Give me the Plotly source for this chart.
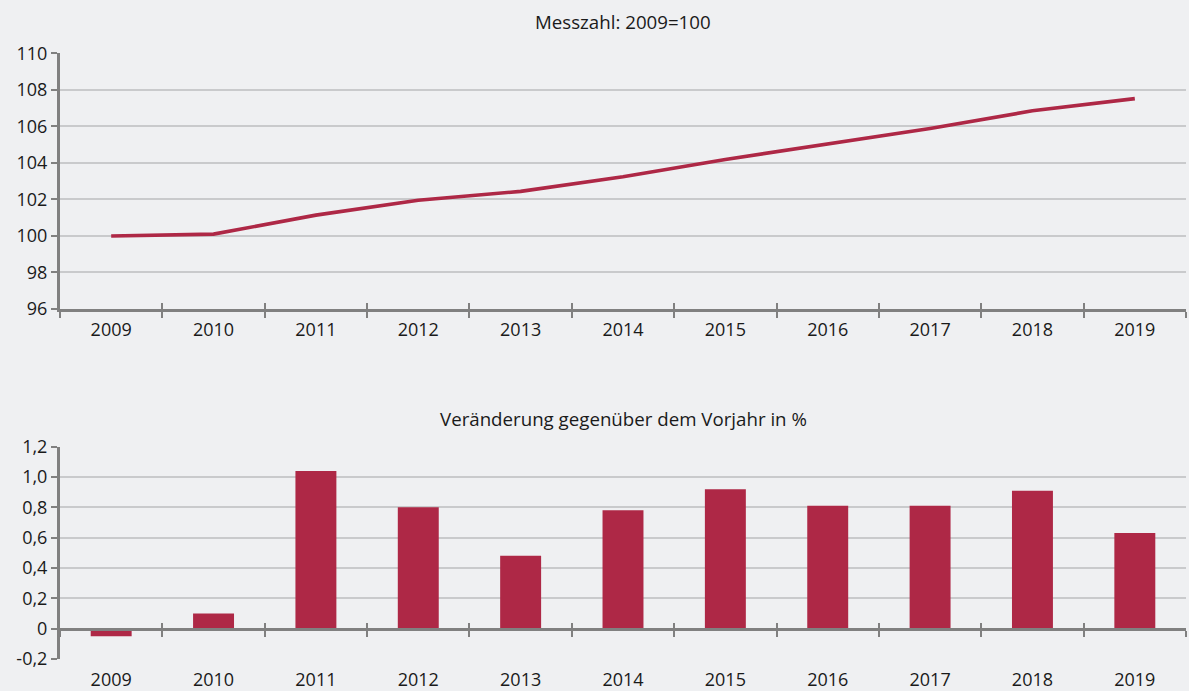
import plotly.graph_objects as go

# Data
years = ["2009", "2010", "2011", "2012", "2013", "2014", "2015", "2016", "2017", "2018", "2019"]
index_2009 = [100.0, 100.1, 101.14, 101.95, 102.44, 103.24, 104.19, 105.03, 105.88, 106.85, 107.52]
change_pct = [-0.05, 0.10, 1.04, 0.80, 0.48, 0.78, 0.92, 0.81, 0.81, 0.91, 0.63]

top_ticks = [96, 98, 100, 102, 104, 106, 108, 110]
bottom_ticks = [-0.2, 0.0, 0.2, 0.4, 0.6, 0.8, 1.0, 1.2]
bottom_ticktext = ["-0,2", "0", "0,2", "0,4", "0,6", "0,8", "1,0", "1,2"]

top_title = "Messzahl: 2009=100"
bottom_title = "Veränderung gegenüber dem Vorjahr in %"

# Styling
W, H = 1189, 691
BG = "#EFF0F2"
RED = "#AE2846"
AXIS = "#808080"
GRID = "#C9CACC"
FONT = "Open Sans"
TXT = "#1a1a1a"

x_dom = [60 / W, 1186 / W]
top_dom = [1 - 309 / H, 1 - 53.3 / H]
bot_dom = [1 - 659 / H, 1 - 446.7 / H]
# tiny pad below -0.2 so its gridline is kept at the lower edge
bot_range = [-0.2008, 1.2]
zero_pos = bot_dom[0] + (0 - bot_range[0]) / (bot_range[1] - bot_range[0]) * (bot_dom[1] - bot_dom[0])

fig = go.Figure()

fig.add_trace(go.Scatter(x=years, y=index_2009, mode="lines",
                         line=dict(color=RED, width=3.6),
                         xaxis="x", yaxis="y", showlegend=False))
fig.add_trace(go.Bar(x=years, y=change_pct, marker=dict(color=RED, line=dict(width=0)),
                     xaxis="x2", yaxis="y2", showlegend=False))

# invisible helpers so the overlay axes carry the same categories
for xa, ya, vals in [("x3", "y", index_2009), ("x4", "y2", change_pct), ("x5", "y2", change_pct)]:
    fig.add_trace(go.Scatter(x=years, y=vals, mode="lines", line=dict(width=0),
                             opacity=0, hoverinfo="skip", xaxis=xa, yaxis=ya, showlegend=False))

tick_font = dict(family=FONT, size=18, color=TXT)

common_x = dict(type="category", categoryorder="array", categoryarray=years,
                range=[-0.5, len(years) - 0.5], domain=x_dom, showgrid=False,
                zeroline=False, fixedrange=True, automargin=False)

common_y = dict(showline=True, linecolor=AXIS, linewidth=3,
                ticks="outside", ticklen=6, tickwidth=2, tickcolor=AXIS,
                showgrid=True, gridcolor=GRID, gridwidth=2, zeroline=False,
                tickfont=tick_font, fixedrange=True, automargin=False)

fig.update_layout(
    width=W, height=H, autosize=False,
    margin=dict(l=0, r=0, t=0, b=0, pad=0, autoexpand=False),
    paper_bgcolor=BG, plot_bgcolor=BG,
    font=dict(family=FONT, color=TXT),
    bargap=0.6,
    xaxis=dict(**common_x, anchor="y", showline=True, linecolor=AXIS, linewidth=3,
               ticks="outside", tickson="boundaries", ticklen=6, tickwidth=2, tickcolor=AXIS,
               ticklabelstandoff=2, tickfont=tick_font),
    xaxis3=dict(**common_x, anchor="y", overlaying="x", showline=False,
                ticks="inside", tickson="boundaries", ticklen=6, tickwidth=2, tickcolor=AXIS,
                showticklabels=False),
    yaxis=dict(**common_y, domain=top_dom, range=[96, 110], tickvals=top_ticks, anchor="x"),
    xaxis2=dict(**common_x, anchor="y2", showline=False, ticks="",
                ticklabelstandoff=8, tickfont=tick_font),
    xaxis4=dict(**common_x, anchor="free", position=zero_pos, overlaying="x2",
                showline=True, linecolor=AXIS, linewidth=3,
                ticks="outside", tickson="boundaries", ticklen=6, tickwidth=2, tickcolor=AXIS,
                showticklabels=False),
    xaxis5=dict(**common_x, anchor="free", position=zero_pos, overlaying="x2",
                showline=False,
                ticks="inside", tickson="boundaries", ticklen=6, tickwidth=2, tickcolor=AXIS,
                showticklabels=False),
    yaxis2=dict(**common_y, domain=bot_dom, range=bot_range, tickvals=bottom_ticks,
                ticktext=bottom_ticktext, anchor="x2"),
    annotations=[
        dict(text=top_title, x=(x_dom[0] + x_dom[1]) / 2, y=1 - 22 / H, xref="paper", yref="paper",
             showarrow=False, xanchor="center", yanchor="middle",
             font=dict(family=FONT, size=18.7, color=TXT)),
        dict(text=bottom_title, x=(x_dom[0] + x_dom[1]) / 2, y=1 - 418 / H, xref="paper", yref="paper",
             showarrow=False, xanchor="center", yanchor="middle",
             font=dict(family=FONT, size=18.7, color=TXT)),
    ],
)

fig.write_html("out.html")
